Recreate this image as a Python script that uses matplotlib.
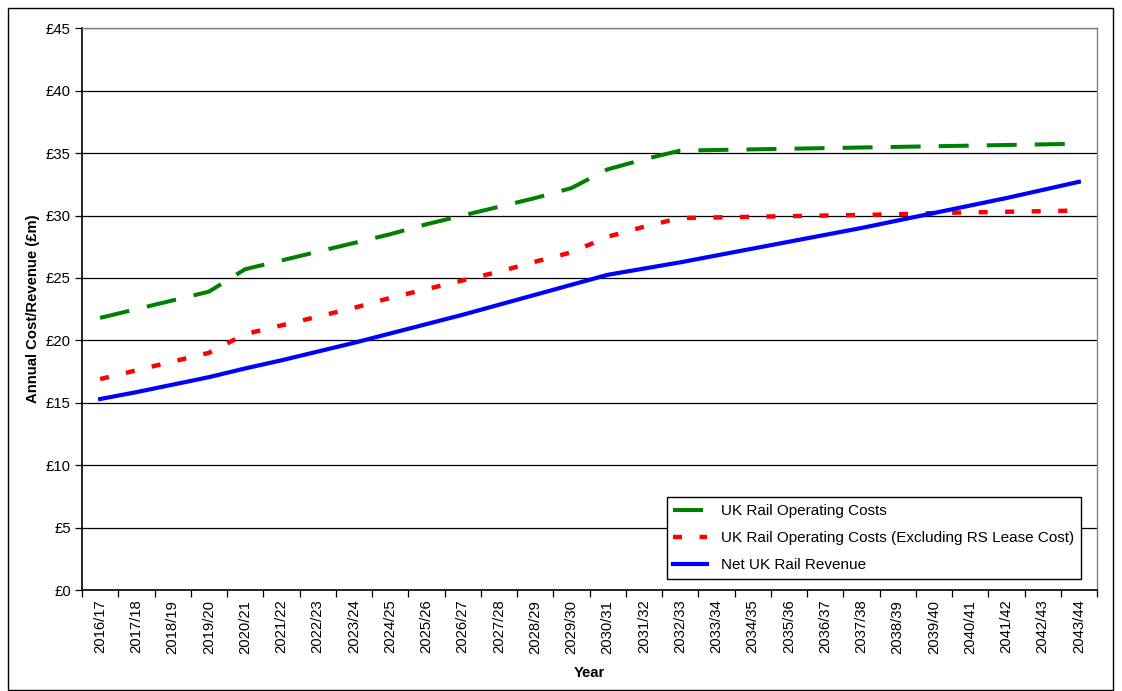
import numpy as np
import matplotlib.pyplot as plt
from matplotlib.patches import Rectangle

plt.rcParams['font.family'] = ['Liberation Sans', 'DejaVu Sans']
plt.rcParams['lines.scale_dashes'] = False

years = ['2016/17', '2017/18', '2018/19', '2019/20', '2020/21', '2021/22', '2022/23',
         '2023/24', '2024/25', '2025/26', '2026/27', '2027/28', '2028/29', '2029/30',
         '2030/31', '2031/32', '2032/33', '2033/34', '2034/35', '2035/36', '2036/37',
         '2037/38', '2038/39', '2039/40', '2040/41', '2041/42', '2042/43', '2043/44']

# £m per year
op_costs = [21.8, 22.5, 23.2, 23.9, 25.7, 26.4, 27.1, 27.8, 28.5, 29.3, 30.0, 30.7, 31.4, 32.2,
            33.7, 34.5, 35.2, 35.25, 35.3, 35.35, 35.4, 35.45, 35.5, 35.55, 35.6, 35.65, 35.7, 35.75]
op_costs_ex_lease = [16.9, 17.6, 18.3, 19.0, 20.5, 21.2, 21.9, 22.6, 23.4, 24.1, 24.8, 25.5, 26.3, 27.05,
                     28.3, 29.1, 29.8, 29.85, 29.9, 29.95, 30.0, 30.05, 30.1, 30.2, 30.25, 30.3, 30.35, 30.4]
net_revenue = [15.3, 15.85, 16.45, 17.05, 17.75, 18.4, 19.1, 19.8, 20.55, 21.3, 22.05, 22.85, 23.65, 24.45,
               25.25, 25.75, 26.25, 26.8, 27.35, 27.9, 28.45, 29.0, 29.6, 30.2, 30.8, 31.4, 32.05, 32.7]

fs = 10.7

fig = plt.figure(figsize=(11.22, 6.91), dpi=100)
ax = fig.add_axes([82 / 1122, 101 / 691, 1015 / 1122, 561.7 / 691])

x = np.arange(len(years))
ax.plot(x, op_costs, color='#008000', lw=2.9, dashes=(21.6, 13), label='UK Rail Operating Costs')
ax.plot(x, op_costs_ex_lease, color='#ff0000', lw=3.2, dashes=(6.5, 12.6),
        label='UK Rail Operating Costs (Excluding RS Lease Cost)')
ax.plot(x, net_revenue, color='#0000ff', lw=3, label='Net UK Rail Revenue')

ax.set_xlim(-0.5, len(years) - 0.5)
ax.set_ylim(0, 45)
ax.set_yticks(np.arange(0, 46, 5))
ax.set_yticklabels(['£%d' % v for v in range(0, 46, 5)], fontsize=fs)
ax.yaxis.grid(True, color='black', lw=0.9)
ax.set_axisbelow(True)

ax.set_xticks(x)
ax.set_xticklabels(years, rotation=90, fontsize=fs)
ax.set_xticks(np.arange(-0.5, len(years)), minor=True)
ax.tick_params(axis='x', which='major', length=0, pad=7)
ax.tick_params(axis='x', which='minor', length=5, width=0.9)
ax.tick_params(axis='y', length=5, width=0.9, pad=3)

for side in ['left', 'bottom']:
    ax.spines[side].set_linewidth(1.2)
    ax.spines[side].set_color('black')
for side in ['top', 'right']:
    ax.spines[side].set_linewidth(1)
    ax.spines[side].set_color('#808080')

ax.set_ylabel('Annual Cost/Revenue (£m)', fontsize=fs, fontweight='bold', labelpad=4)
ax.set_xlabel('Year', fontsize=fs, fontweight='bold', labelpad=9)

leg = ax.legend(loc='lower right', bbox_to_anchor=(0.984, 0.0196), fontsize=11,
                handlelength=2.2, fancybox=False, framealpha=1, edgecolor='black',
                borderpad=0.45, labelspacing=0.85, handletextpad=0.9, borderaxespad=0)
leg.get_frame().set_linewidth(1)

# outer chart border
fig.patches.append(Rectangle((8 / 1122, 1 / 691), 1105 / 1122, 682 / 691, transform=fig.transFigure,
                             fill=False, edgecolor='black', lw=1))

fig.savefig('out.png', dpi=100)
